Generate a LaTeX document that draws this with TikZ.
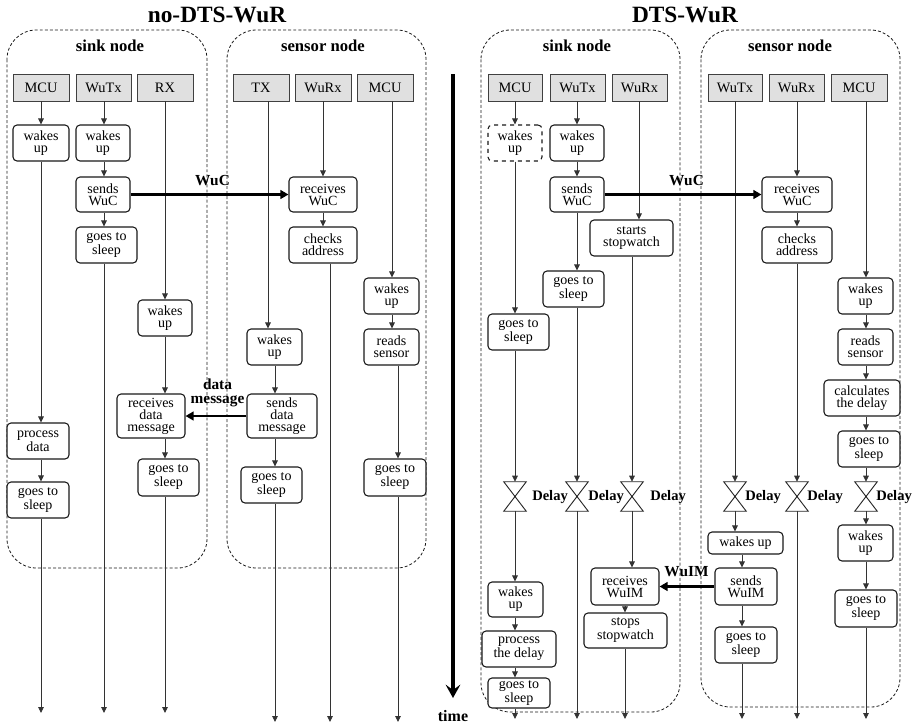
\documentclass[tikz,border=0pt]{standalone}
\usepackage{fontspec}
\setmainfont{Liberation Serif}
\usetikzlibrary{arrows.meta,calc}
\begin{document}
\begin{tikzpicture}[x=0.75pt,y=-0.75pt,
  wh/.style 2 args={minimum width=#1*0.75pt, minimum height=#2*0.75pt},
  box/.style={draw=black!90, line width=0.8pt, rounded corners=3pt, fill=white, inner sep=0.5pt, align=center, font=\fontsize{10.5}{9}\selectfont},
  dbox/.style={box, dashed},
  hdr/.style={draw=black!75, line width=0.6pt, fill=black!12, inner sep=0.5pt, font=\fontsize{10.8}{12}\selectfont, wh={#1}{27}},
  cont/.style={draw=black!90, line width=0.6pt, dash pattern=on 2.2pt off 1.6pt, rounded corners=22pt},
  lane/.style={draw=black!80, line width=0.6pt, -{Triangle[length=4.5pt,width=4.2pt]}},
  big/.style={draw=black, line width=2.2pt, -{Triangle[length=6pt,width=6.5pt]}},
  lbl/.style={inner sep=0pt, font=\bfseries\fontsize{11.5}{9}\selectfont, align=center},
  ttl/.style={inner sep=0pt, font=\bfseries\fontsize{17.5}{20}\selectfont},
  grp/.style={inner sep=0pt, font=\bfseries\fontsize{12.5}{14}\selectfont},
  dly/.style={wh={22}{29}, inner sep=0pt, draw=none},
  dlyl/.style={lbl, anchor=west, font=\bfseries\fontsize{10.9}{12}\selectfont}
]
\useasboundingbox (0,0) rectangle (915,726);

% titles
\node[ttl] (t1) at (217,15) {no-DTS-WuR};
\node[ttl] (t2) at (685,15) {DTS-WuR};

% containers
\draw[cont] (7,30) rectangle (207,568);
\draw[cont] (227,30) rectangle (426,568);
\draw[cont] (481,30) rectangle (680,712);
\draw[cont] (701,30) rectangle (900,707);
\node[grp] (g1) at (110,46) {sink node};
\node[grp] (g2) at (323,46) {sensor node};
\node[grp] (g3) at (577,46) {sink node};
\node[grp] (g4) at (790,46) {sensor node};

% lanes
\coordinate (L1) at (41,0);  \coordinate (L2) at (104,0); \coordinate (L3) at (165,0);
\coordinate (L4a) at (268,0); \coordinate (L4b) at (275,0);
\coordinate (L5a) at (323,0); \coordinate (L5b) at (330,0);
\coordinate (L6a) at (392,0); \coordinate (L6b) at (398,0);
\coordinate (eL1) at (41,713); \coordinate (eL2) at (104,713); \coordinate (eL3) at (165,713);
\coordinate (eL4) at (275,722); \coordinate (eL5) at (330,722); \coordinate (eL6) at (398,722);

\coordinate (R1) at (515,0); \coordinate (R2) at (577,0);
\coordinate (R3a) at (639,0); \coordinate (R3b) at (632,0); \coordinate (R3c) at (625,0);
\coordinate (R4) at (735,0); \coordinate (R4b) at (742,0);
\coordinate (R5) at (797,0); \coordinate (R6) at (866,0);
\coordinate (eR1) at (515,719); \coordinate (eR2) at (577,719); \coordinate (eR3) at (625,719);
\coordinate (eR4) at (742,719); \coordinate (eR5) at (797,719); \coordinate (eR6) at (866,719);

% ---------- left: headers
\node[hdr=56] (h1) at (41,87.5) {MCU};
\node[hdr=55] (h2) at (103.5,87.5) {WuTx};
\node[hdr=56] (h3) at (165,87.5) {RX};
\node[hdr=56] (h4) at (261,87.5) {TX};
\node[hdr=56] (h5) at (323,87.5) {WuRx};
\node[hdr=56] (h6) at (385,87.5) {MCU};

% left boxes
\node[box, wh={56}{36}] (a1) at (41,143) {wakes\\up};
\node[box, wh={54}{36}] (a2) at (103,143) {wakes\\up};
\node[box, wh={54}{35}] (a3) at (103,194.5) {sends\\WuC};
\node[box, wh={61}{36}] (a4) at (106.5,245) {goes to\\sleep};
\node[box, wh={62}{36}] (a5) at (38,441) {process\\data};
\node[box, wh={62}{36}] (a6) at (38,500) {goes to\\sleep};
\node[box, wh={54}{36}] (a7) at (165,318) {wakes\\up};
\node[box, wh={68}{44}] (a8) at (151,416) {receives\\data\\message};
\node[box, wh={61}{37}] (a9) at (168.5,477.5) {goes to\\sleep};
\node[box, wh={68}{35}] (b1) at (323,194.5) {receives\\WuC};
\node[box, wh={68}{36}] (b2) at (323,245) {checks\\address};
\node[box, wh={55}{36}] (b3) at (274.5,347) {wakes\\up};
\node[box, wh={70}{44}] (b4) at (282,416) {sends\\data\\message};
\node[box, wh={61}{36}] (b5) at (271.5,485) {goes to\\sleep};
\node[box, wh={55}{36}] (b6) at (391.5,296) {wakes\\up};
\node[box, wh={55}{36}] (b7) at (391.5,347) {reads\\sensor};
\node[box, wh={62}{37}] (b8) at (395,477.5) {goes to\\sleep};

% left connectors
\draw[lane] (h1.south -| L1) -- (a1.north -| L1);
\draw[lane] (a1.south -| L1) -- (a5.north -| L1);
\draw[lane] (a5.south -| L1) -- (a6.north -| L1);
\draw[lane] (a6.south -| L1) -- (eL1);
\draw[lane] (h2.south -| L2) -- (a2.north -| L2);
\draw[lane] (a2.south -| L2) -- (a3.north -| L2);
\draw[lane] (a3.south -| L2) -- (a4.north -| L2);
\draw[lane] (a4.south -| L2) -- (eL2);
\draw[lane] (h3.south -| L3) -- (a7.north -| L3);
\draw[lane] (a7.south -| L3) -- (a8.north -| L3);
\draw[lane] (a8.south -| L3) -- (a9.north -| L3);
\draw[lane] (a9.south -| L3) -- (eL3);
\draw[lane] (h4.south -| L4a) -- (b3.north -| L4a);
\draw[lane] (b3.south -| L4b) -- (b4.north -| L4b);
\draw[lane] (b4.south -| L4b) -- (b5.north -| L4b);
\draw[lane] (b5.south -| L4b) -- (eL4);
\draw[lane] (h5.south -| L5a) -- (b1.north -| L5a);
\draw[lane] (b1.south -| L5a) -- (b2.north -| L5a);
\draw[lane] (b2.south -| L5b) -- (eL5);
\draw[lane] (h6.south -| L6a) -- (b6.north -| L6a);
\draw[lane] (b6.south -| L6a) -- (b7.north -| L6a);
\draw[lane] (b7.south -| L6b) -- (b8.north -| L6b);
\draw[lane] (b8.south -| L6b) -- (eL6);

\draw[big] (a3.east) -- (b1.west);
\node[lbl] (wuc1) at (212.5,181) {WuC};
\draw[big] (b4.west) -- (a8.east);
\node[lbl, font=\bfseries\fontsize{11.5}{10}\selectfont] (dm) at (217.5,393) {data\\message};

% time arrow
\coordinate (t0) at (453,74);
\coordinate (t9) at (453,698);
\draw[line width=3.2pt, -{Stealth[length=10pt,width=11pt,inset=4pt]}] (t0) -- (t9);
\node[lbl, font=\bfseries\fontsize{12}{14}\selectfont] (tl) at (453,716) {time};

% ---------- right: headers
\node[hdr=54] (H1) at (515,87.5) {MCU};
\node[hdr=55] (H2) at (577.5,87.5) {WuTx};
\node[hdr=55] (H3) at (639.5,87.5) {WuRx};
\node[hdr=54] (H4) at (735,87.5) {WuTx};
\node[hdr=55] (H5) at (796.5,87.5) {WuRx};
\node[hdr=56] (H6) at (859,87.5) {MCU};

% right boxes
\node[dbox, wh={54}{36}] (c1) at (515,143) {wakes\\up};
\node[box, wh={54}{36}] (c2) at (577,143) {wakes\\up};
\node[box, wh={54}{35}] (c3) at (577,194.5) {sends\\WuC};
\node[box, wh={83}{36}] (c4) at (631.5,238) {starts\\stopwatch};
\node[box, wh={61}{36}] (c5) at (573.5,289) {goes to\\sleep};
\node[box, wh={61}{36}] (c6) at (518.5,332) {goes to\\sleep};
\node[box, wh={55}{35}] (c7) at (515.5,599.5) {wakes\\up};
\node[box, wh={74}{36}] (c8) at (519,649) {process\\the delay};
\node[box, wh={62}{30}] (c9) at (519,693) {goes to\\sleep};
\node[box, wh={68}{37}] (c10) at (625,586.5) {receives\\WuIM};
\node[box, wh={83}{35}] (c11) at (625.5,630.5) {stops\\stopwatch};
\node[box, wh={70}{35}] (d1) at (797,194.5) {receives\\WuC};
\node[box, wh={70}{36}] (d2) at (797,245) {checks\\address};
\node[box, wh={55}{36}] (d3) at (865.5,296) {wakes\\up};
\node[box, wh={55}{36}] (d4) at (865.5,347) {reads\\sensor};
\node[box, wh={76}{36}] (d5) at (862,398) {calculates\\the delay};
\node[box, wh={62}{36}] (d6) at (869,449) {goes to\\sleep};
\node[box, wh={75}{22}] (d7) at (745.5,543) {wakes up};
\node[box, wh={62}{37}] (d8) at (746,586.5) {sends\\WuIM};
\node[box, wh={62}{36}] (d9) at (746,645) {goes to\\sleep};
\node[box, wh={55}{36}] (d10) at (865.5,543) {wakes\\up};
\node[box, wh={62}{37}] (d11) at (866,608.5) {goes to\\sleep};

% delays
\node[dly] (D1) at (515,496.5) {};
\node[dly] (D2) at (577,496.5) {};
\node[dly] (D3) at (632,496.5) {};
\node[dly] (D4) at (735,496.5) {};
\node[dly] (D5) at (797,496.5) {};
\node[dly] (D6) at (866,496.5) {};
\foreach \d in {D1,D2,D3,D4,D5,D6}
  \draw[draw=black!85, line width=0.7pt] (\d.north west) -- (\d.north east) -- (\d.south west) -- (\d.south east) -- cycle;
\node[dlyl] (DL1) at (532,497) {Delay};
\node[dlyl] (DL2) at (588,497) {Delay};
\node[dlyl] (DL3) at (650,497) {Delay};
\node[dlyl] (DL4) at (745,497) {Delay};
\node[dlyl] (DL5) at (807,497) {Delay};
\node[dlyl] (DL6) at (876,497) {Delay};

% right connectors: sink MCU
\draw[lane] (H1.south -| R1) -- (c1.north -| R1);
\draw[lane] (c1.south -| R1) -- (c6.north -| R1);
\draw[lane] (c6.south -| R1) -- (D1.north);
\draw[lane] (D1.south) -- (c7.north -| R1);
\draw[lane] (c7.south -| R1) -- (c8.north -| R1);
\draw[lane] (c8.south -| R1) -- (c9.north -| R1);
\draw[lane] (c9.south -| R1) -- (eR1);
% sink WuTx
\draw[lane] (H2.south -| R2) -- (c2.north -| R2);
\draw[lane] (c2.south -| R2) -- (c3.north -| R2);
\draw[lane] (c3.south -| R2) -- (c5.north -| R2);
\draw[lane] (c5.south -| R2) -- (D2.north);
\draw[lane] (D2.south) -- (eR2);
% sink WuRx
\draw[lane] (H3.south -| R3a) -- (c4.north -| R3a);
\draw[lane] (c4.south -| R3b) -- (D3.north);
\draw[lane] (D3.south) -- (c10.north -| R3b);
\draw[lane] (c10.south -| R3c) -- (c11.north -| R3c);
\draw[lane] (c11.south -| R3c) -- (eR3);
% sensor WuTx
\draw[lane] (H4.south -| R4) -- (D4.north);
\draw[lane] (D4.south) -- (d7.north -| R4);
\draw[lane] (d7.south -| R4b) -- (d8.north -| R4b);
\draw[lane] (d8.south -| R4b) -- (d9.north -| R4b);
\draw[lane] (d9.south -| R4b) -- (eR4);
% sensor WuRx
\draw[lane] (H5.south -| R5) -- (d1.north -| R5);
\draw[lane] (d1.south -| R5) -- (d2.north -| R5);
\draw[lane] (d2.south -| R5) -- (D5.north);
\draw[lane] (D5.south) -- (eR5);
% sensor MCU
\draw[lane] (H6.south -| R6) -- (d3.north -| R6);
\draw[lane] (d3.south -| R6) -- (d4.north -| R6);
\draw[lane] (d4.south -| R6) -- (d5.north -| R6);
\draw[lane] (d5.south -| R6) -- (d6.north -| R6);
\draw[lane] (d6.south -| R6) -- (D6.north);
\draw[lane] (D6.south) -- (d10.north -| R6);
\draw[lane] (d10.south -| R6) -- (d11.north -| R6);
\draw[lane] (d11.south -| R6) -- (eR6);

\draw[big] (c3.east) -- (d1.west);
\node[lbl] (wuc2) at (686.5,181) {WuC};
\draw[big] (d8.west) -- (c10.east);
\node[lbl] (wuim) at (686.5,572) {WuIM};
\end{tikzpicture}
\end{document}
